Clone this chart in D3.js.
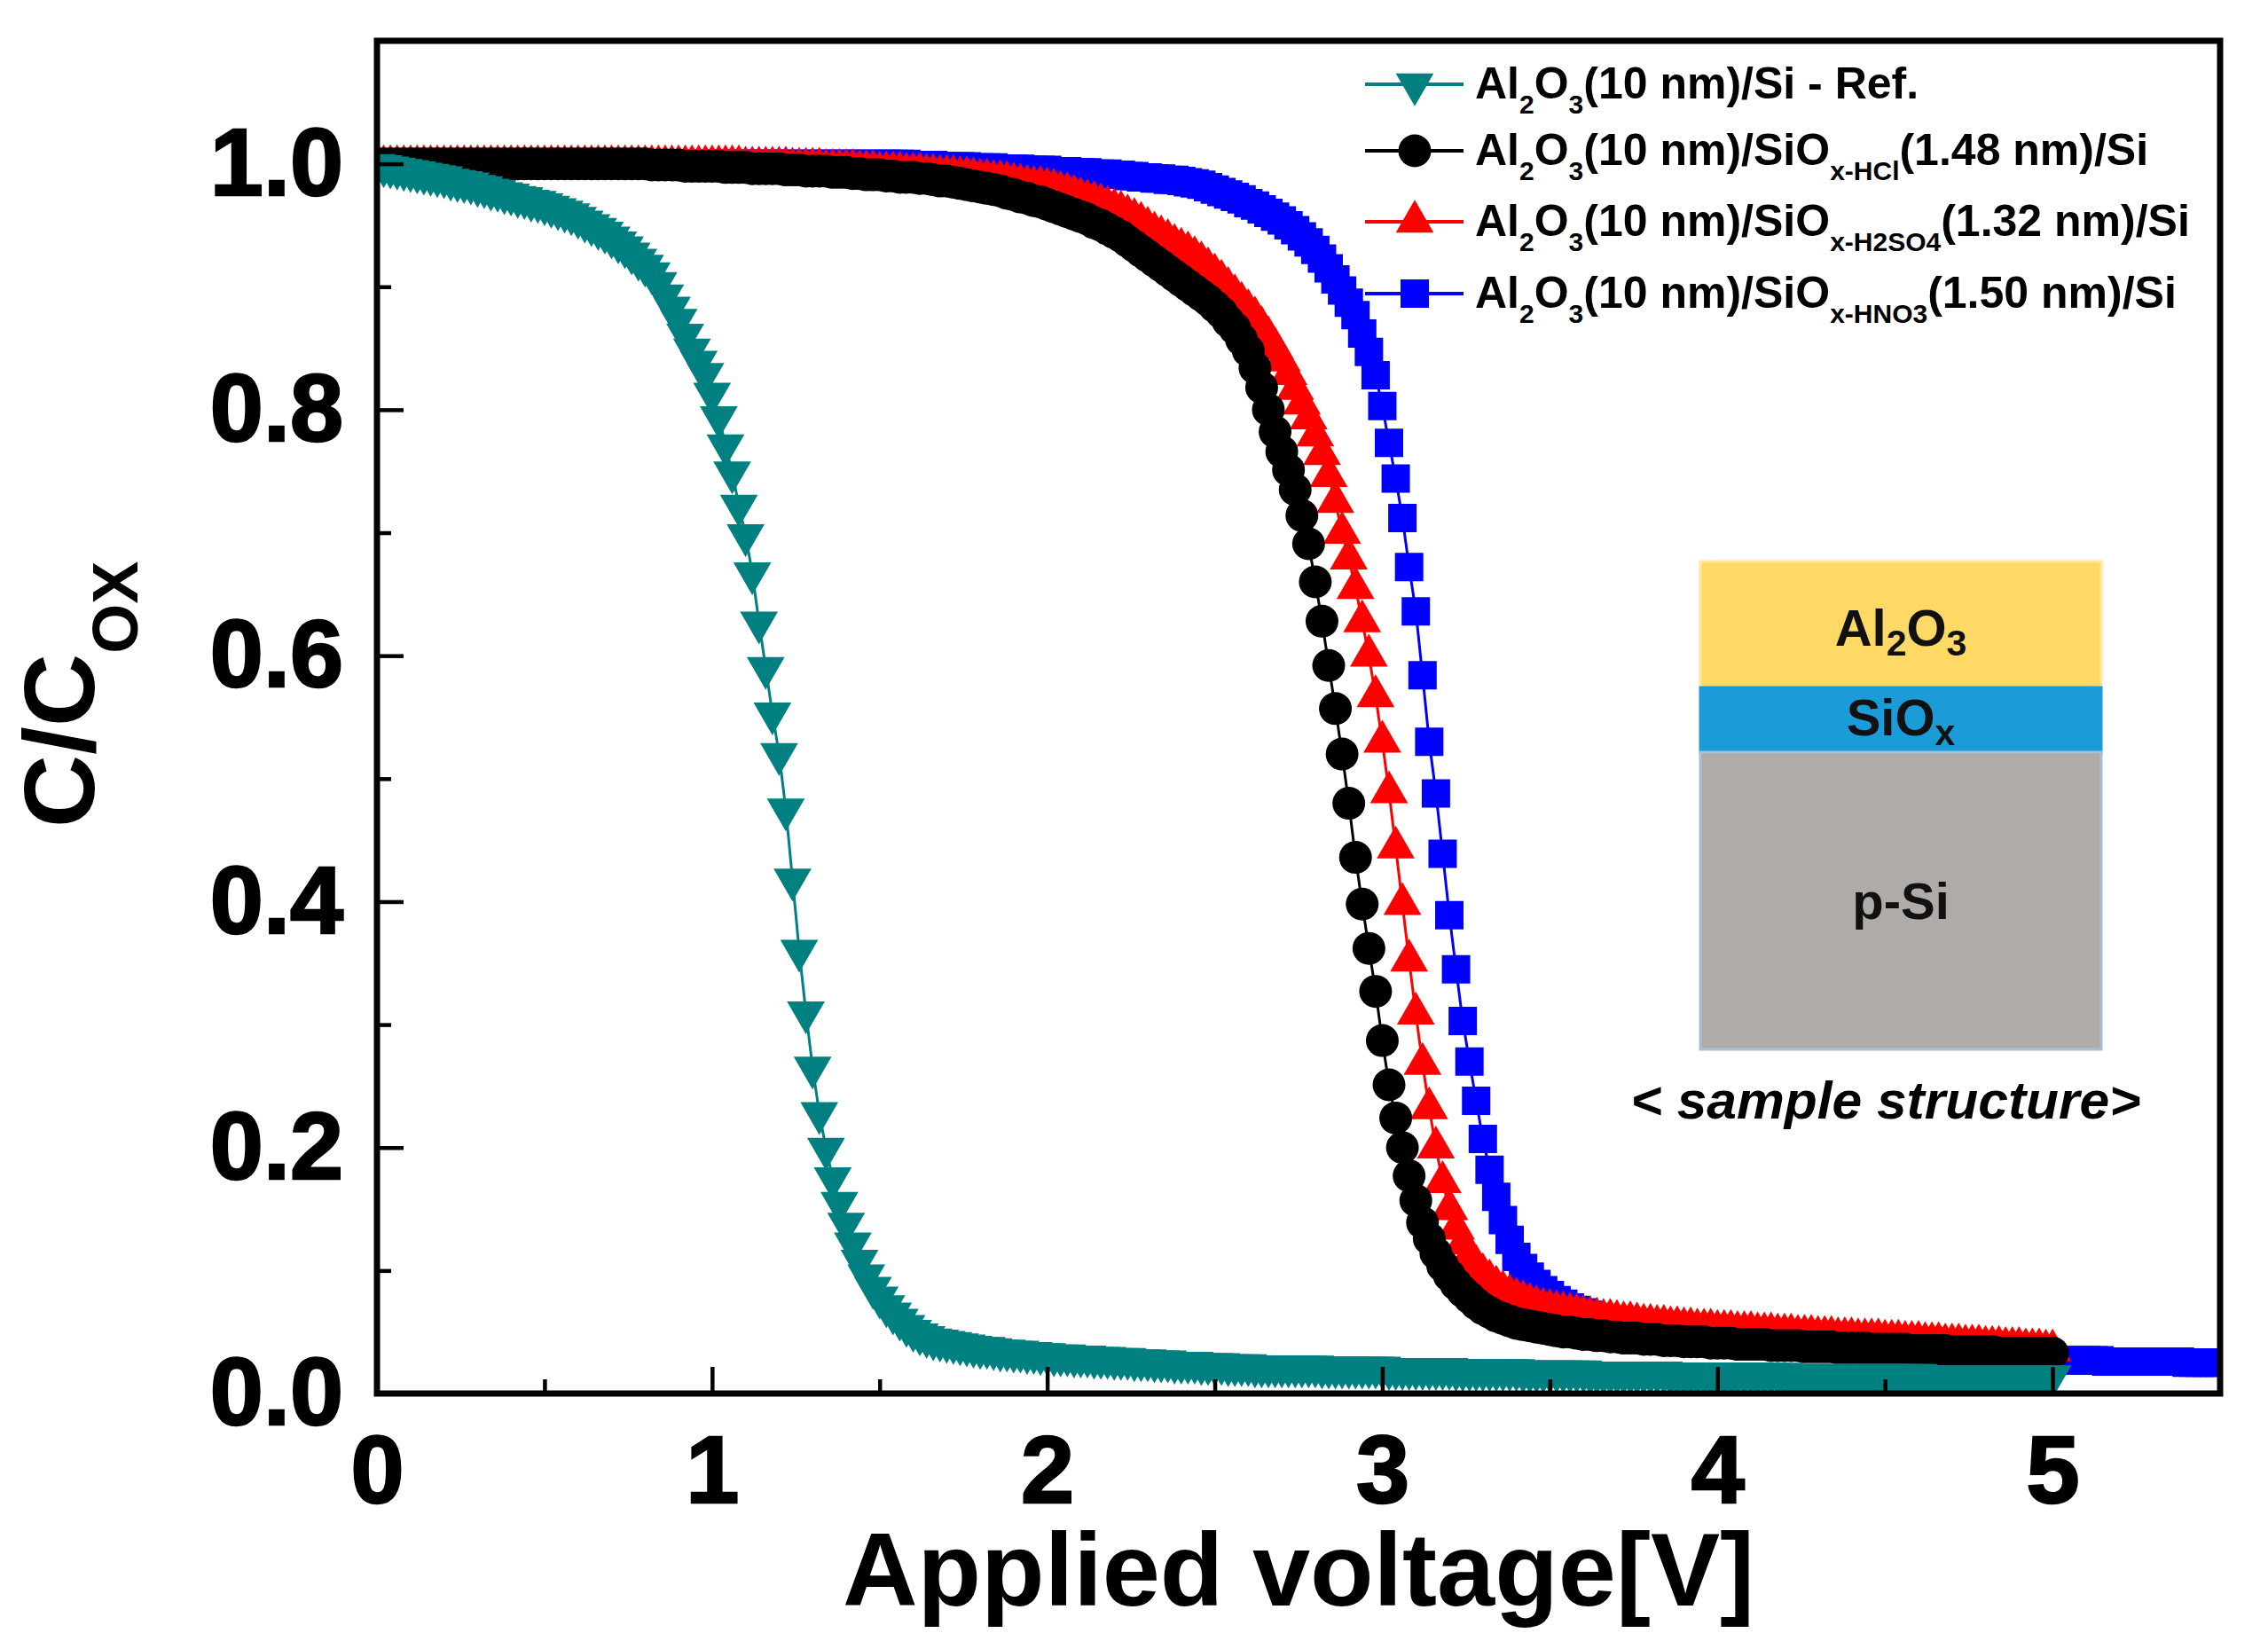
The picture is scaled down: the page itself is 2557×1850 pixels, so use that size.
<!DOCTYPE html>
<html>
<head>
<meta charset="utf-8">
<script src="https://cdn.jsdelivr.net/npm/d3@7"></script>
<style>
  html, body { margin: 0; padding: 0; background: #ffffff; }
  svg { display: block; }
</style>
</head>
<body>
<svg id="chart" width="2557" height="1850"></svg>
<script>
// ---------------- DATA ----------------
// Applied voltage sweep [V]
const voltage = [
0.00,0.02,0.04,0.06,0.08,0.10,0.12,0.14,0.16,0.18,
0.20,0.22,0.24,0.26,0.28,0.30,0.32,0.34,0.36,0.38,
0.40,0.42,0.44,0.46,0.48,0.50,0.52,0.54,0.56,0.58,
0.60,0.62,0.64,0.66,0.68,0.70,0.72,0.74,0.76,0.78,
0.80,0.82,0.84,0.86,0.88,0.90,0.92,0.94,0.96,0.98,
1.00,1.02,1.04,1.06,1.08,1.10,1.12,1.14,1.16,1.18,
1.20,1.22,1.24,1.26,1.28,1.30,1.32,1.34,1.36,1.38,
1.40,1.42,1.44,1.46,1.48,1.50,1.52,1.54,1.56,1.58,
1.60,1.62,1.64,1.66,1.68,1.70,1.72,1.74,1.76,1.78,
1.80,1.82,1.84,1.86,1.88,1.90,1.92,1.94,1.96,1.98,
2.00,2.02,2.04,2.06,2.08,2.10,2.12,2.14,2.16,2.18,
2.20,2.22,2.24,2.26,2.28,2.30,2.32,2.34,2.36,2.38,
2.40,2.42,2.44,2.46,2.48,2.50,2.52,2.54,2.56,2.58,
2.60,2.62,2.64,2.66,2.68,2.70,2.72,2.74,2.76,2.78,
2.80,2.82,2.84,2.86,2.88,2.90,2.92,2.94,2.96,2.98,
3.00,3.02,3.04,3.06,3.08,3.10,3.12,3.14,3.16,3.18,
3.20,3.22,3.24,3.26,3.28,3.30,3.32,3.34,3.36,3.38,
3.40,3.42,3.44,3.46,3.48,3.50,3.52,3.54,3.56,3.58,
3.60,3.62,3.64,3.66,3.68,3.70,3.72,3.74,3.76,3.78,
3.80,3.82,3.84,3.86,3.88,3.90,3.92,3.94,3.96,3.98,
4.00,4.02,4.04,4.06,4.08,4.10,4.12,4.14,4.16,4.18,
4.20,4.22,4.24,4.26,4.28,4.30,4.32,4.34,4.36,4.38,
4.40,4.42,4.44,4.46,4.48,4.50,4.52,4.54,4.56,4.58,
4.60,4.62,4.64,4.66,4.68,4.70,4.72,4.74,4.76,4.78,
4.80,4.82,4.84,4.86,4.88,4.90,4.92,4.94,4.96,4.98,
5.00,5.02,5.04,5.06,5.08,5.10,5.12,5.14,5.16,5.18,
5.20,5.22,5.24,5.26,5.28,5.30,5.32,5.34,5.36,5.38,
5.40,5.42,5.44,5.46,5.48,5.50
];

// C/Cox : Al2O3(10 nm)/Si - Ref.  (0 .. 5.00 V)
const cRef = [
0.999,0.998,0.997,0.996,0.995,0.994,0.993,0.992,0.991,0.990,
0.989,0.987,0.986,0.985,0.984,0.982,0.981,0.979,0.978,0.976,
0.975,0.973,0.972,0.970,0.969,0.967,0.965,0.963,0.961,0.959,
0.956,0.953,0.950,0.947,0.944,0.940,0.936,0.932,0.927,0.922,
0.917,0.911,0.903,0.893,0.883,0.873,0.861,0.849,0.839,0.829,
0.813,0.794,0.771,0.749,0.722,0.698,0.667,0.627,0.590,0.553,
0.520,0.475,0.418,0.360,0.310,0.265,0.228,0.199,0.175,0.155,
0.138,0.122,0.108,0.096,0.086,0.078,0.071,0.065,0.060,0.055,
0.051,0.048,0.046,0.044,0.043,0.042,0.041,0.040,0.039,0.038,
0.037,0.037,0.036,0.035,0.035,0.034,0.034,0.033,0.033,0.032,
0.032,0.031,0.031,0.031,0.030,0.030,0.030,0.029,0.029,0.029,
0.028,0.028,0.028,0.027,0.027,0.027,0.026,0.026,0.026,0.025,
0.025,0.025,0.025,0.024,0.024,0.024,0.024,0.023,0.023,0.023,
0.023,0.022,0.022,0.022,0.022,0.022,0.022,0.022,0.022,0.022,
0.022,0.021,0.021,0.021,0.021,0.021,0.021,0.021,0.021,0.021,
0.021,0.020,0.020,0.020,0.020,0.020,0.020,0.020,0.020,0.020,
0.020,0.019,0.019,0.019,0.019,0.019,0.019,0.019,0.019,0.019,
0.019,0.018,0.018,0.018,0.018,0.018,0.018,0.018,0.018,0.018,
0.018,0.017,0.017,0.017,0.017,0.017,0.017,0.017,0.017,0.017,
0.017,0.017,0.017,0.016,0.016,0.016,0.016,0.016,0.016,0.016,
0.016,0.016,0.016,0.016,0.016,0.016,0.016,0.016,0.016,0.016,
0.016,0.015,0.015,0.015,0.015,0.015,0.015,0.015,0.015,0.015,
0.015,0.015,0.015,0.015,0.015,0.015,0.015,0.015,0.015,0.015,
0.015,0.014,0.014,0.014,0.014,0.014,0.014,0.014,0.014,0.014,
0.014,0.014,0.014,0.014,0.014,0.014,0.014,0.014,0.014,0.014,
0.014
];

// C/Cox : Al2O3(10 nm)/SiOx-HCl(1.48 nm)/Si  (0 .. 5.00 V)
const cHCl = [
1.000,1.000,1.000,1.000,1.000,1.000,1.000,1.000,1.000,1.000,
1.000,1.000,1.000,1.000,1.000,1.000,1.000,1.000,1.000,1.000,
1.000,1.000,1.000,1.000,1.000,1.000,1.000,1.000,1.000,1.000,
1.000,1.000,1.000,1.000,1.000,1.000,1.000,1.000,1.000,1.000,
1.000,0.999,0.999,0.999,0.999,0.999,0.998,0.998,0.998,0.998,
0.998,0.998,0.997,0.997,0.997,0.997,0.996,0.996,0.996,0.996,
0.996,0.995,0.995,0.995,0.994,0.994,0.994,0.994,0.993,0.993,
0.993,0.992,0.992,0.991,0.991,0.991,0.990,0.990,0.989,0.989,
0.989,0.988,0.988,0.987,0.986,0.986,0.985,0.984,0.983,0.982,
0.981,0.980,0.979,0.978,0.976,0.975,0.973,0.972,0.970,0.969,
0.967,0.965,0.963,0.961,0.959,0.957,0.955,0.952,0.950,0.947,
0.944,0.941,0.937,0.933,0.929,0.925,0.921,0.917,0.913,0.909,
0.905,0.901,0.897,0.893,0.889,0.884,0.879,0.872,0.866,0.857,
0.848,0.834,0.818,0.800,0.782,0.766,0.751,0.735,0.714,0.691,
0.660,0.628,0.592,0.557,0.520,0.480,0.436,0.398,0.362,0.327,
0.287,0.251,0.224,0.200,0.177,0.157,0.139,0.126,0.114,0.104,
0.096,0.089,0.083,0.078,0.073,0.069,0.066,0.063,0.061,0.059,
0.057,0.056,0.055,0.054,0.053,0.052,0.051,0.050,0.050,0.049,
0.048,0.048,0.047,0.047,0.046,0.046,0.045,0.045,0.045,0.044,
0.044,0.044,0.043,0.043,0.043,0.042,0.042,0.042,0.042,0.041,
0.041,0.041,0.041,0.040,0.040,0.040,0.040,0.040,0.039,0.039,
0.039,0.039,0.039,0.038,0.038,0.038,0.038,0.038,0.037,0.037,
0.037,0.037,0.037,0.036,0.036,0.036,0.036,0.036,0.036,0.035,
0.035,0.035,0.035,0.035,0.035,0.034,0.034,0.034,0.034,0.034,
0.034,0.034,0.033,0.033,0.033,0.033,0.033,0.033,0.033,0.033,
0.033
];

// C/Cox : Al2O3(10 nm)/SiOx-H2SO4(1.32 nm)/Si  (0 .. 5.00 V)
const cH2SO4 = [
0.998,0.998,0.998,0.998,0.998,0.998,0.998,0.998,0.998,0.998,
0.998,0.998,0.998,0.998,0.998,0.998,0.998,0.998,0.998,0.998,
0.998,0.998,0.998,0.998,0.998,0.998,0.998,0.998,0.998,0.998,
0.998,0.998,0.998,0.998,0.998,0.998,0.998,0.998,0.998,0.998,
0.998,0.998,0.998,0.998,0.998,0.998,0.998,0.998,0.998,0.998,
0.998,0.998,0.998,0.998,0.998,0.997,0.997,0.997,0.997,0.997,
0.997,0.997,0.996,0.996,0.996,0.996,0.996,0.995,0.995,0.995,
0.995,0.995,0.994,0.994,0.994,0.993,0.993,0.993,0.993,0.992,
0.992,0.992,0.991,0.991,0.990,0.990,0.990,0.989,0.989,0.988,
0.987,0.987,0.986,0.986,0.985,0.984,0.983,0.982,0.981,0.981,
0.980,0.979,0.977,0.976,0.974,0.972,0.970,0.969,0.967,0.965,
0.963,0.961,0.958,0.955,0.952,0.948,0.944,0.941,0.938,0.934,
0.931,0.928,0.924,0.920,0.915,0.910,0.905,0.899,0.893,0.887,
0.881,0.875,0.867,0.859,0.850,0.840,0.829,0.817,0.805,0.793,
0.779,0.764,0.746,0.725,0.700,0.679,0.655,0.628,0.600,0.567,
0.530,0.489,0.444,0.398,0.352,0.309,0.268,0.232,0.200,0.172,
0.150,0.134,0.122,0.112,0.104,0.097,0.092,0.087,0.083,0.080,
0.077,0.075,0.073,0.071,0.069,0.068,0.067,0.066,0.065,0.064,
0.063,0.062,0.061,0.060,0.060,0.059,0.058,0.058,0.057,0.056,
0.056,0.055,0.055,0.054,0.054,0.053,0.053,0.052,0.052,0.052,
0.051,0.051,0.051,0.050,0.050,0.050,0.049,0.049,0.049,0.048,
0.048,0.048,0.047,0.047,0.047,0.046,0.046,0.046,0.045,0.045,
0.045,0.044,0.044,0.044,0.044,0.043,0.043,0.043,0.042,0.042,
0.042,0.041,0.041,0.041,0.040,0.040,0.040,0.039,0.039,0.039,
0.038,0.038,0.038,0.037,0.037,0.037,0.036,0.036,0.036,0.035,
0.035
];

// C/Cox : Al2O3(10 nm)/SiOx-HNO3(1.50 nm)/Si  (0 .. 5.50 V)
const cHNO3 = [
1.000,1.000,1.000,1.000,1.000,1.000,1.000,1.000,1.000,1.000,
1.000,1.000,1.000,1.000,1.000,1.000,1.000,1.000,1.000,1.000,
1.000,1.000,1.000,1.000,1.000,1.000,1.000,1.000,1.000,1.000,
1.000,1.000,1.000,1.000,1.000,1.000,1.000,1.000,1.000,1.000,
1.000,1.000,1.000,1.000,1.000,1.000,1.000,1.000,1.000,1.000,
1.000,1.000,1.000,1.000,1.000,1.000,1.000,1.000,1.000,1.000,
1.000,1.000,1.000,1.000,1.000,1.000,1.000,1.000,1.000,1.000,
1.000,1.000,1.000,1.000,1.000,1.000,1.000,1.000,1.000,1.000,
0.999,0.999,0.999,0.999,0.998,0.998,0.998,0.998,0.998,0.997,
0.997,0.997,0.997,0.996,0.996,0.996,0.996,0.995,0.995,0.995,
0.995,0.994,0.994,0.994,0.993,0.993,0.993,0.992,0.992,0.992,
0.991,0.991,0.990,0.990,0.989,0.989,0.988,0.988,0.987,0.987,
0.986,0.985,0.984,0.983,0.981,0.979,0.977,0.975,0.973,0.971,
0.968,0.966,0.963,0.960,0.957,0.954,0.950,0.946,0.941,0.936,
0.930,0.923,0.915,0.906,0.897,0.887,0.877,0.862,0.847,0.828,
0.803,0.773,0.744,0.712,0.672,0.636,0.584,0.530,0.488,0.439,
0.389,0.345,0.303,0.270,0.238,0.207,0.182,0.160,0.141,0.125,
0.111,0.102,0.095,0.089,0.084,0.080,0.076,0.073,0.070,0.068,
0.066,0.064,0.062,0.060,0.059,0.057,0.056,0.055,0.054,0.053,
0.052,0.051,0.051,0.050,0.049,0.049,0.048,0.047,0.047,0.046,
0.046,0.045,0.045,0.044,0.044,0.043,0.043,0.042,0.042,0.041,
0.041,0.040,0.040,0.039,0.039,0.038,0.038,0.038,0.037,0.037,
0.036,0.036,0.036,0.035,0.035,0.035,0.034,0.034,0.034,0.033,
0.033,0.033,0.032,0.032,0.032,0.031,0.031,0.031,0.030,0.030,
0.030,0.029,0.029,0.029,0.029,0.028,0.028,0.028,0.028,0.027,
0.027,0.027,0.027,0.027,0.027,0.027,0.027,0.027,0.026,0.026,
0.026,0.026,0.026,0.026,0.026,0.026,0.026,0.026,0.026,0.026,
0.025,0.025,0.025,0.025,0.025,0.025
];

// Axis ticks and labels
const xTicks = [0, 1, 2, 3, 4, 5];
const xMinorTicks = [0.5, 1.5, 2.5, 3.5, 4.5];
const yTicks = [0.0, 0.2, 0.4, 0.6, 0.8, 1.0];
const yTickLabels = ["0.0", "0.2", "0.4", "0.6", "0.8", "1.0"];
const yMinorTicks = [0.1, 0.3, 0.5, 0.7, 0.9];
const xTitle = "Applied voltage[V]";

// Series (legend order)
const seriesValues = [cRef, cHCl, cH2SO4, cHNO3];
const seriesColors = ["#008080", "#000000", "#ff0000", "#0000ff"];
const seriesShapes = ["triangleDown", "circle", "triangleUp", "square"];
const seriesLabels = [
  [["Al"], ["2", "sub"], ["O"], ["3", "sub"], ["(10 nm)/Si - Ref."]],
  [["Al"], ["2", "sub"], ["O"], ["3", "sub"], ["(10 nm)/SiO"], ["x-HCl", "sub"], ["(1.48 nm)/Si"]],
  [["Al"], ["2", "sub"], ["O"], ["3", "sub"], ["(10 nm)/SiO"], ["x-H2SO4", "sub"], ["(1.32 nm)/Si"]],
  [["Al"], ["2", "sub"], ["O"], ["3", "sub"], ["(10 nm)/SiO"], ["x-HNO3", "sub"], ["(1.50 nm)/Si"]]
];

// Inset (sample structure)
const insetLayers = [
  { parts: [["Al"], ["2", "sub"], ["O"], ["3", "sub"]], fill: "#ffd966", stroke: "#ffe89c" },
  { parts: [["SiO"], ["x", "sub"]], fill: "#1b9bd7", stroke: "#1b9bd7" },
  { parts: [["p-Si"]], fill: "#afaba9", stroke: "#a9bfd6" }
];
const insetCaption = "< sample structure>";

// ---------------- DRAWING ----------------
const FONT = "'Liberation Sans', Arial, Helvetica, sans-serif";
const svg = d3.select("#chart");
svg.append("rect").attr("width", 2557).attr("height", 1850).attr("fill", "#ffffff");

const x = d3.scaleLinear().domain([0, 5.5]).range([425, 2503]);
const y = d3.scaleLinear().domain([0, 1.1]).range([1571, 46]);

svg.append("defs").append("clipPath").attr("id", "plotClip")
  .append("rect")
  .attr("x", x(0)).attr("y", y(1.1))
  .attr("width", x(5.5) - x(0)).attr("height", y(0) - y(1.1));

function symbolPath(shape) {
  if (shape === "circle") return d3.symbol(d3.symbolCircle, Math.PI * 18.5 * 18.5)();
  if (shape === "square") return d3.symbol(d3.symbolSquare, 32 * 32)();
  return d3.symbol(d3.symbolTriangle, 790)(); // height ~37, width ~43 (centroid centred)
}
function symbolRotate(shape) { return shape === "triangleDown" ? " rotate(180)" : ""; }

// Inset drawn first (behind data)
const inset = svg.append("g");
const insetX0 = 1917, insetX1 = 2369;
const insetBounds = [[633, 775], [775, 848], [848, 1183]];
const insetBaselines = [728, 829, 1036];
insetLayers.forEach((L, i) => {
  inset.append("rect")
    .attr("x", insetX0).attr("y", insetBounds[i][0])
    .attr("width", insetX1 - insetX0).attr("height", insetBounds[i][1] - insetBounds[i][0])
    .attr("fill", L.fill).attr("stroke", L.stroke).attr("stroke-width", 3);
  const t = inset.append("text")
    .attr("x", (insetX0 + insetX1) / 2).attr("y", insetBaselines[i])
    .attr("text-anchor", "middle").attr("font-family", FONT)
    .attr("font-weight", "bold").attr("font-size", 58).attr("fill", "#111");
  let shifted = false;
  L.parts.forEach(p => {
    const ts = t.append("tspan").text(p[0]);
    if (p[1] === "sub") { ts.attr("font-size", 41).attr("dy", 11); shifted = true; }
    else if (shifted) { ts.attr("dy", -11); shifted = false; }
  });
});
inset.append("text")
  .attr("x", 2126).attr("y", 1261)
  .attr("text-anchor", "middle").attr("font-family", FONT)
  .attr("font-style", "italic").attr("font-weight", "bold")
  .attr("font-size", 60).attr("fill", "#000")
  .attr("textLength", 575).attr("lengthAdjust", "spacingAndGlyphs")
  .text(insetCaption);

// Series: drawn back-to-front (HNO3, H2SO4, HCl, Ref)
const dataLayer = svg.append("g").attr("clip-path", "url(#plotClip)");
[3, 2, 1, 0].forEach(k => {
  const vals = seriesValues[k];
  const pts = vals.map((c, i) => [voltage[i], c]);
  const line = d3.line().x(d => x(d[0])).y(d => y(d[1]));
  const g = dataLayer.append("g");
  g.append("path").attr("d", line(pts))
    .attr("fill", "none").attr("stroke", seriesColors[k]).attr("stroke-width", 3);
  const path = symbolPath(seriesShapes[k]);
  g.selectAll("path.m").data(pts).enter().append("path")
    .attr("class", "m")
    .attr("d", path)
    .attr("transform", d => `translate(${x(d[0])},${y(d[1])})${symbolRotate(seriesShapes[k])}`)
    .attr("fill", seriesColors[k]);
});

// Frame
svg.append("rect")
  .attr("x", x(0)).attr("y", y(1.1))
  .attr("width", x(5.5) - x(0)).attr("height", y(0) - y(1.1))
  .attr("fill", "none").attr("stroke", "#000").attr("stroke-width", 7);

// Axes
function styleAxis(g, fontSize) {
  g.select(".domain").remove();
  g.selectAll(".tick line").attr("stroke", "#000").attr("stroke-width", 4.5);
  g.selectAll(".tick text").attr("font-family", FONT).attr("font-weight", "bold")
    .attr("font-size", fontSize).attr("fill", "#000")
    .attr("stroke", "#000").attr("stroke-width", 2.5);
}
const gx = svg.append("g").attr("transform", `translate(0,${y(0)})`)
  .call(d3.axisBottom(x).tickValues(xTicks).tickSize(-30).tickPadding(46).tickFormat(d3.format("d")));
styleAxis(gx, 108);
const gxm = svg.append("g").attr("transform", `translate(0,${y(0)})`)
  .call(d3.axisBottom(x).tickValues(xMinorTicks).tickSize(-16).tickFormat(""));
styleAxis(gxm, 10);

const gy = svg.append("g").attr("transform", `translate(${x(0)},0)`)
  .call(d3.axisLeft(y).tickValues(yTicks).tickSize(-30).tickPadding(38)
    .tickFormat((d, i) => yTickLabels[i]));
styleAxis(gy, 108);
const gym = svg.append("g").attr("transform", `translate(${x(0)},0)`)
  .call(d3.axisLeft(y).tickValues(yMinorTicks).tickSize(-16).tickFormat(""));
styleAxis(gym, 10);

// Axis titles
svg.append("text")
  .attr("x", (x(0) + x(5.5)) / 2).attr("y", 1810)
  .attr("text-anchor", "middle").attr("font-family", FONT)
  .attr("font-weight", "bold").attr("font-size", 116).attr("fill", "#000")
  .attr("textLength", 1028).attr("lengthAdjust", "spacingAndGlyphs")
  .text(xTitle);

const yt = svg.append("text")
  .attr("transform", "translate(106,783) rotate(-90)")
  .attr("text-anchor", "middle").attr("font-family", FONT)
  .attr("font-weight", "bold").attr("font-size", 114).attr("fill", "#000");
yt.append("tspan").text("C/C");
yt.append("tspan").attr("font-size", 72).attr("dy", 49).text("OX");

// Legend
const legendRows = [95, 170, 250, 331];
const legend = svg.append("g");
seriesLabels.forEach((parts, k) => {
  const ry = legendRows[k];
  legend.append("line")
    .attr("x1", 1539).attr("x2", 1650).attr("y1", ry).attr("y2", ry)
    .attr("stroke", seriesColors[k]).attr("stroke-width", 4);
  legend.append("path")
    .attr("d", symbolPath(seriesShapes[k]))
    .attr("transform", `translate(1595,${ry})${symbolRotate(seriesShapes[k])}`)
    .attr("fill", seriesColors[k]);
  const t = legend.append("text")
    .attr("x", 1663).attr("y", ry + 16)
    .attr("font-family", FONT).attr("font-weight", "bold")
    .attr("font-size", 50).attr("fill", "#000");
  let shifted = false;
  parts.forEach(p => {
    const ts = t.append("tspan").text(p[0]);
    if (p[1] === "sub") { ts.attr("font-size", 30).attr("dy", shifted ? 0 : 17); shifted = true; }
    else { if (shifted) ts.attr("dy", -17); shifted = false; }
  });
});
</script>
</body>
</html>
